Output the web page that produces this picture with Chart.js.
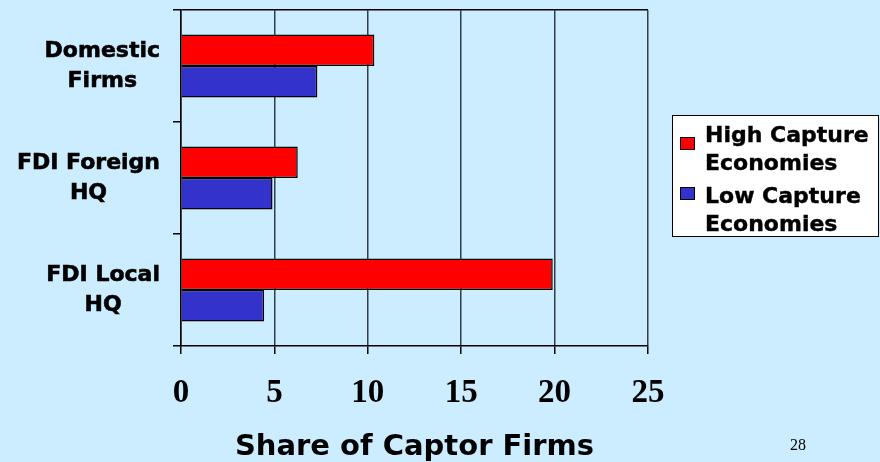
<!DOCTYPE html>
<html><head><meta charset="utf-8">
<script src="https://cdn.jsdelivr.net/npm/chart.js@4.4.0/dist/chart.umd.min.js"></script>
<style>
html,body{margin:0;padding:0;background:#CCECFF;width:880px;height:462px;overflow:hidden;}
#wrap{position:relative;width:880px;height:462px;}
canvas{position:absolute;left:0;top:0;}
#legend{position:absolute;left:672px;top:115px;width:205px;height:120px;border:1px solid #000;background:#fff;font:bold 22px "DejaVu Sans";color:#000;-webkit-text-stroke:0.4px #000;}
.sw{position:absolute;left:7px;width:15px;height:13px;border:1px solid #000;box-sizing:border-box;-webkit-text-stroke:0;}
.txt{position:absolute;left:32px;line-height:28px;white-space:nowrap;}
#page{position:absolute;left:790px;top:436px;font:16px "Liberation Serif";color:#000;}
</style></head>
<body>
<div id="wrap">
<canvas id="c" width="880" height="462"></canvas>
<div id="legend"></div>
<div id="page">28</div>
</div>
<script>
const categories = [["Domestic","Firms"],["FDI Foreign","HQ"],["FDI Local","HQ"]];
const seriesNames = [["High Capture","Economies"],["Low Capture","Economies"]];
const highCapture = [10.35, 6.25, 19.9];
const lowCapture = [7.3, 4.9, 4.45];
const xTickValues = [0, 5, 10, 15, 20, 25];
const seriesColors = ['#FF0000', '#3333CC'];

const LABEL_RIGHT = 160;
const labelPlugin = {
  id: 'catLabels',
  afterDraw(chart) {
    const s = chart.scales.y, ctx = chart.ctx;
    ctx.save();
    ctx.font = 'bold 22px "DejaVu Sans"';
    ctx.fillStyle = '#000';
    ctx.strokeStyle = '#000';
    ctx.lineWidth = 0.6;
    ctx.textAlign = 'center';
    ctx.textBaseline = 'middle';
    categories.forEach((lines, i) => {
      const y = s.getPixelForValue(i);
      const w = Math.max(...lines.map(l => ctx.measureText(l).width));
      const cx = LABEL_RIGHT - w / 2;
      const lh = 30;
      lines.forEach((l, j) => {
        const ly = y + (j - (lines.length - 1) / 2) * lh;
        ctx.fillText(l, cx, ly);
        ctx.strokeText(l, cx, ly);
      });
    });
    ctx.restore();
  }
};

new Chart(document.getElementById('c'), {
  type: 'bar',
  data: {
    labels: categories,
    datasets: [
      { label: seriesNames[0].join(' '), data: highCapture, backgroundColor: seriesColors[0], borderColor: '#000', borderWidth: 1.5 },
      { label: seriesNames[1].join(' '), data: lowCapture, backgroundColor: seriesColors[1], borderColor: '#000', borderWidth: 1.5 }
    ]
  },
  options: {
    indexAxis: 'y',
    responsive: false,
    animation: false,
    maintainAspectRatio: false,
    layout: { padding: { top: 10, right: 232, left: 0, bottom: 0 } },
    datasets: { bar: { categoryPercentage: 0.5625, barPercentage: 1.0 } },
    plugins: { legend: { display: false }, tooltip: { enabled: false } },
    scales: {
      y: {
        type: 'category',
        afterFit: s => { s.width = 181; },
        ticks: { display: false },
        grid: {
          offset: true,
          drawOnChartArea: true,
          color: ctx => ctx.index === 0 ? '#000' : 'rgba(0,0,0,0)',
          tickColor: '#000',
          tickLength: 8,
          lineWidth: 1.5
        },
        border: { display: true, color: '#000', width: 1.5 }
      },
      x: {
        min: 0, max: 25,
        afterFit: s => { s.height = 116; },
        afterBuildTicks: s => { s.ticks = xTickValues.map(v => ({ value: v })); },
        ticks: { color: '#000', padding: 20, font: { family: '"Liberation Serif"', weight: 'bold', size: 33 } },
        grid: { color: '#333d48', lineWidth: 1.5, tickLength: 8, tickColor: '#000' },
        border: { display: true, color: '#000', width: 1.5 },
        title: { display: true, text: 'Share of Captor Firms', color: '#000', padding: { top: 0, bottom: 0 }, font: { family: '"DejaVu Sans"', weight: 'bold', size: 29, lineHeight: 1.0 } }
      }
    }
  },
  plugins: [labelPlugin]
});

const leg = document.getElementById('legend');
const swTops = [21, 71], txtTops = [5, 66];
seriesNames.forEach((lines, i) => {
  const sw = document.createElement('div');
  sw.className = 'sw'; sw.style.top = swTops[i] + 'px'; sw.style.background = seriesColors[i];
  leg.appendChild(sw);
  const t = document.createElement('div');
  t.className = 'txt'; t.style.top = txtTops[i] + 'px';
  t.innerHTML = lines.join('<br>');
  leg.appendChild(t);
});
</script>
</body></html>
